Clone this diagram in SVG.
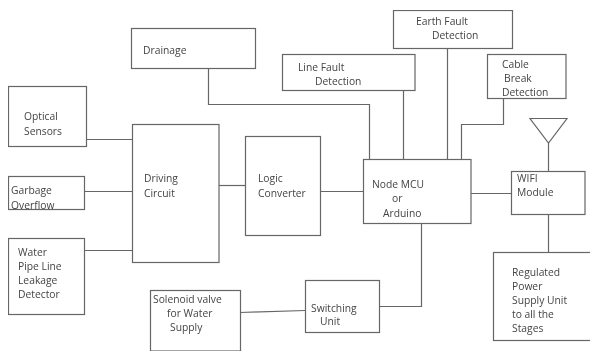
<svg xmlns="http://www.w3.org/2000/svg" width="590" height="352" viewBox="0 0 590 352">
<defs>
<style>
.b{fill:#fff;stroke:#666;stroke-width:1.2}
.c{fill:none;stroke:#666;stroke-width:1.2}
text{font-family:"Open Sans","Liberation Sans",Arial,sans-serif;font-size:10.3px;fill:#444}
</style>
<filter id="s" x="0" y="0" width="100%" height="100%"><feGaussianBlur stdDeviation="0.5"/></filter>
</defs>
<rect width="590" height="352" fill="#fff"/>
<g filter="url(#s)">
<g id="connectors">
<path class="c" d="M208.500 68V104.500H369.500V159"/>
<path class="c" d="M403.500 90V159"/>
<path class="c" d="M447.500 48V159"/>
<path class="c" d="M503.500 98V124.500H461.500V159"/>
<path class="c" d="M548.500 143V171"/>
<path class="c" d="M548.500 214V252"/>
<path class="c" d="M471 193.500H511"/>
<path class="c" d="M320 191.500H363"/>
<path class="c" d="M219 185.500H245"/>
<path class="c" d="M86 139.500H132"/>
<path class="c" d="M84 191.500H132"/>
<path class="c" d="M84 250.500H132"/>
<path class="c" d="M240 312.500L305 310.500"/>
<path class="c" d="M379 306.500H421.500V223"/>
</g>
<g id="drainage"><rect class="b" x="131.500" y="28.500" width="124" height="40"/><text x="143" y="54">Drainage</text></g>
<g id="optical"><rect class="b" x="8.500" y="86.500" width="78" height="60"/><text x="24" y="120">Optical</text><text x="24" y="135">Sensors</text></g>
<g id="garbage"><rect class="b" x="8.500" y="176.500" width="76" height="33"/><text x="11" y="194">Garbage</text><text x="11" y="209">Overflow</text></g>
<g id="water"><rect class="b" x="8.500" y="238.500" width="76" height="76"/><text x="18" y="256">Water</text><text x="18" y="270">Pipe Line</text><text x="18" y="284">Leakage</text><text x="18" y="298">Detector</text></g>
<g id="driving"><rect class="b" x="132.500" y="124.500" width="86.500" height="138"/><text x="144" y="182">Driving</text><text x="144" y="197">Circuit</text></g>
<g id="logic"><rect class="b" x="245.500" y="136.500" width="75" height="99"/><text x="258" y="182">Logic</text><text x="258" y="197">Converter</text></g>
<g id="solenoid"><rect class="b" x="150.500" y="290.500" width="90" height="60.500"/><text x="153" y="303">Solenoid valve</text><text x="167" y="317">for Water</text><text x="170" y="331">Supply</text></g>
<g id="switching"><rect class="b" x="305.500" y="280.500" width="74" height="52"/><text x="311" y="312">Switching</text><text x="320" y="325">Unit</text></g>
<g id="linefault"><rect class="b" x="282.500" y="54.500" width="132.500" height="36"/><text x="298" y="71">Line Fault</text><text x="315" y="85">Detection</text></g>
<g id="earthfault"><rect class="b" x="393.500" y="10.500" width="119" height="38"/><text x="416" y="25">Earth Fault</text><text x="432" y="39">Detection</text></g>
<g id="cablebreak"><rect class="b" x="487.500" y="54.500" width="78.500" height="44"/><text x="502" y="68">Cable</text><text x="504" y="82">Break</text><text x="502" y="96">Detection</text></g>
<g id="nodemcu"><rect class="b" x="363.500" y="159.500" width="107.500" height="64"/><text x="372" y="188">Node MCU</text><text x="392" y="202">or</text><text x="383" y="217">Arduino</text></g>
<g id="wifi"><rect class="b" x="511.500" y="171.500" width="73.500" height="43"/><text x="517" y="182">WIFI</text><text x="517" y="196">Module</text></g>
<g id="power"><rect class="b" x="493.500" y="252.500" width="100" height="88"/><text x="512" y="276">Regulated</text><text x="512" y="290">Power</text><text x="512" y="304">Supply Unit</text><text x="512" y="318">to all the</text><text x="512" y="332">Stages</text></g>
<g id="antenna"><path class="c" d="M530 118.500H567L548.500 143Z"/></g>
</g>
</svg>
